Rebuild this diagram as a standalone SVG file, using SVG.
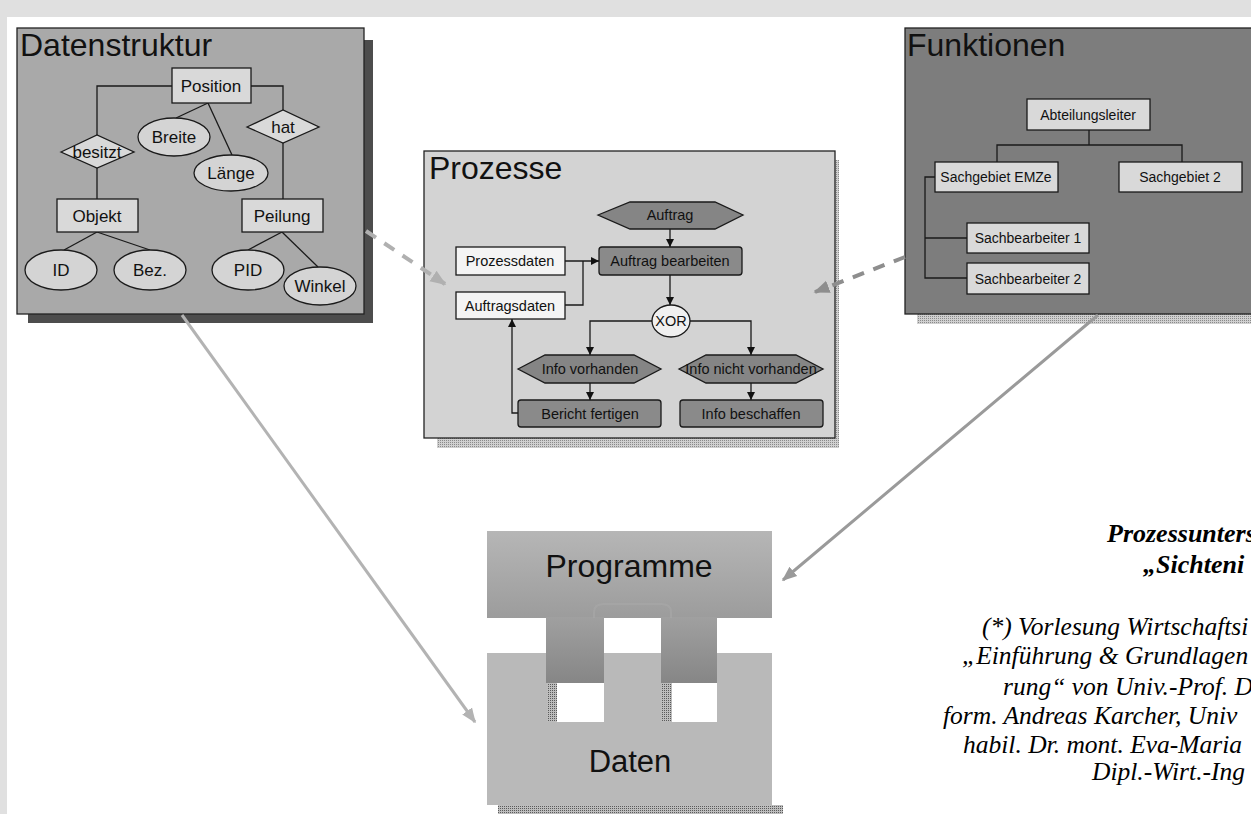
<svg xmlns="http://www.w3.org/2000/svg" width="1251" height="814" viewBox="0 0 1251 814">
  <defs>
    <style>
      .sans { font-family: "Liberation Sans", Arial, sans-serif; fill: #111; }
      .title { font-size: 32px; }
      .er { font-size: 17px; text-anchor: middle; }
      .pr { font-size: 14.5px; text-anchor: middle; }
      .fn { font-size: 14px; text-anchor: middle; }
      .edge { stroke: #1a1a1a; stroke-width: 1.3; fill: none; }
      .box { stroke: #1a1a1a; stroke-width: 1.3; }
      .serif { font-family: "Liberation Serif", "Times New Roman", serif; fill: #000; }
      .note { font-size: 25.5px; font-style: italic; }
      .head { font-size: 26px; font-style: italic; font-weight: bold; }
    </style>
    <marker id="ah" viewBox="0 0 10 10" refX="10" refY="5" markerWidth="8" markerHeight="8" markerUnits="userSpaceOnUse" orient="auto">
      <path d="M0,0 L10,5 L0,10 z" fill="#111"/>
    </marker>
    <marker id="ahLight" viewBox="0 0 10 10" refX="9" refY="5" markerWidth="4" markerHeight="4" orient="auto">
      <path d="M0,1 L10,5 L0,9 z" fill="#b0b0b0"/>
    </marker>
    <marker id="ahDark" viewBox="0 0 10 10" refX="9" refY="5" markerWidth="4" markerHeight="4" orient="auto">
      <path d="M0,1 L10,5 L0,9 z" fill="#8e8e8e"/>
    </marker>
    <marker id="ahLine1" viewBox="0 0 10 10" refX="9" refY="5" markerWidth="5" markerHeight="5" orient="auto">
      <path d="M0,1 L10,5 L0,9 z" fill="#b3b3b3"/>
    </marker>
    <marker id="ahLine2" viewBox="0 0 10 10" refX="9" refY="5" markerWidth="5" markerHeight="5" orient="auto">
      <path d="M0,1 L10,5 L0,9 z" fill="#9a9a9a"/>
    </marker>
    <linearGradient id="progGrad" x1="0" y1="0" x2="0" y2="1">
      <stop offset="0" stop-color="#b6b6b6"/>
      <stop offset="1" stop-color="#9c9c9c"/>
    </linearGradient>
    <linearGradient id="toothGrad" x1="0" y1="0" x2="0" y2="1">
      <stop offset="0" stop-color="#a0a0a0"/>
      <stop offset="1" stop-color="#868686"/>
    </linearGradient>
    <pattern id="dots" width="2" height="2" patternUnits="userSpaceOnUse">
      <rect width="2" height="2" fill="#d0d0d0"/>
      <rect width="1" height="1" fill="#8a8a8a"/>
    </pattern>
    <pattern id="dotsDark" width="2" height="2" patternUnits="userSpaceOnUse">
      <rect width="2" height="2" fill="#bdbdbd"/>
      <rect width="1" height="1" fill="#5a5a5a"/>
    </pattern>
  </defs>

  <!-- page background -->
  <rect x="0" y="0" width="1251" height="814" fill="#ffffff"/>
  <rect x="0" y="0" width="1251" height="17" fill="#e0e0e0"/>
  <rect x="0" y="0" width="7" height="814" fill="#e0e0e0"/>

  <!-- Datenstruktur panel -->
  <g id="datenstruktur">
    <rect x="28" y="40" width="345" height="283" fill="#4d4d4d"/>
    <rect x="17" y="28" width="347" height="286" fill="#a9a9a9" stroke="#222" stroke-width="1.3"/>
    <text class="sans title" x="20" y="56">Datenstruktur</text>
    <!-- relationships -->
    <path class="edge" d="M172,86 H97 V135"/>
    <path class="edge" d="M97,168 V199"/>
    <path class="edge" d="M251,86 H283 V110"/>
    <path class="edge" d="M283,143 V199"/>
    <path class="edge" d="M208,103 L176,118"/>
    <path class="edge" d="M208,103 L232,155"/>
    <path class="edge" d="M97,232 L64,250"/>
    <path class="edge" d="M97,232 L150,250"/>
    <path class="edge" d="M282,232 L248,250"/>
    <path class="edge" d="M282,232 L318,267"/>
    <!-- entities -->
    <rect class="box" x="172" y="68" width="79" height="35" fill="#d9d9d9"/>
    <text class="sans er" x="211" y="92">Position</text>
    <rect class="box" x="57" y="199" width="81" height="33" fill="#d9d9d9"/>
    <text class="sans er" x="97" y="222">Objekt</text>
    <rect class="box" x="242" y="199" width="81" height="33" fill="#d9d9d9"/>
    <text class="sans er" x="282" y="222">Peilung</text>
    <!-- relationship diamonds -->
    <polygon class="box" points="61,152 97,135 134,152 97,168" fill="#d9d9d9"/>
    <text class="sans er" x="97" y="158">besitzt</text>
    <polygon class="box" points="247,127 283,110 319,127 283,143" fill="#d9d9d9"/>
    <text class="sans er" x="283" y="133">hat</text>
    <!-- attributes -->
    <ellipse class="box" cx="174" cy="137" rx="36" ry="19" fill="#d4d4d4"/>
    <text class="sans er" x="174" y="143">Breite</text>
    <ellipse class="box" cx="231" cy="173" rx="37" ry="18" fill="#d4d4d4"/>
    <text class="sans er" x="231" y="179">Länge</text>
    <ellipse class="box" cx="61" cy="270" rx="36" ry="20" fill="#d4d4d4"/>
    <text class="sans er" x="61" y="276">ID</text>
    <ellipse class="box" cx="150" cy="270" rx="36" ry="20" fill="#d4d4d4"/>
    <text class="sans er" x="150" y="276">Bez.</text>
    <ellipse class="box" cx="248" cy="270" rx="36" ry="20" fill="#d4d4d4"/>
    <text class="sans er" x="248" y="276">PID</text>
    <ellipse class="box" cx="320" cy="286" rx="36" ry="19" fill="#d4d4d4"/>
    <text class="sans er" x="320" y="292">Winkel</text>
  </g>

  <!-- Prozesse panel -->
  <g id="prozesse">
    <rect x="437" y="438" width="401" height="10" fill="url(#dots)"/>
    <rect x="835" y="160" width="4" height="288" fill="url(#dots)"/>
    <rect x="424" y="151" width="411" height="287" fill="#d3d3d3" stroke="#222" stroke-width="1.3"/>
    <text class="sans title" x="429" y="179">Prozesse</text>
    <!-- flow -->
    <path class="edge" d="M670,229 V247" marker-end="url(#ah)"/>
    <path class="edge" d="M565,261 H599" marker-end="url(#ah)"/>
    <path class="edge" d="M565,305 H583 V261"/>
    <path class="edge" d="M670,275 V305" marker-end="url(#ah)"/>
    <path class="edge" d="M652,321 H590 V355" marker-end="url(#ah)"/>
    <path class="edge" d="M690,321 H751 V355" marker-end="url(#ah)"/>
    <path class="edge" d="M590,383 V400" marker-end="url(#ah)"/>
    <path class="edge" d="M751,383 V400" marker-end="url(#ah)"/>
    <path class="edge" d="M518,413 H512 V319" marker-end="url(#ah)"/>
    <!-- events -->
    <polygon class="box" points="598,215 630,202 715,202 743,215 715,229 630,229" fill="#858585"/>
    <text class="sans pr" x="670" y="220">Auftrag</text>
    <polygon class="box" points="518,369 545,355 634,355 661,369 634,383 545,383" fill="#858585"/>
    <text class="sans pr" x="590" y="374">Info vorhanden</text>
    <polygon class="box" points="679,369 706,355 796,355 823,369 796,383 706,383" fill="#858585"/>
    <text class="sans pr" x="751" y="374">Info nicht vorhanden</text>
    <!-- functions -->
    <rect class="box" x="599" y="247" width="143" height="28" rx="3" fill="#8a8a8a"/>
    <text class="sans pr" x="670" y="266">Auftrag bearbeiten</text>
    <rect class="box" x="518" y="400" width="143" height="27" rx="3" fill="#8a8a8a"/>
    <text class="sans pr" x="590" y="419">Bericht fertigen</text>
    <rect class="box" x="680" y="400" width="143" height="27" rx="3" fill="#8a8a8a"/>
    <text class="sans pr" x="751" y="419">Info beschaffen</text>
    <!-- data -->
    <rect class="box" x="456" y="247" width="109" height="28" fill="#f4f4f4"/>
    <text class="sans pr" x="510" y="266">Prozessdaten</text>
    <rect class="box" x="456" y="292" width="109" height="27" fill="#f4f4f4"/>
    <text class="sans pr" x="510" y="311">Auftragsdaten</text>
    <!-- connector -->
    <ellipse class="box" cx="671" cy="321" rx="19" ry="16" fill="#f0f0f0"/>
    <text class="sans pr" x="671" y="326">XOR</text>
  </g>

  <!-- Funktionen panel -->
  <g id="funktionen">
    <rect x="917" y="314" width="340" height="10" fill="url(#dots)"/>
    <rect x="905" y="28" width="360" height="286" fill="#7d7d7d" stroke="#222" stroke-width="1.3"/>
    <text class="sans title" x="907" y="56">Funktionen</text>
    <path class="edge" d="M1089,130 V145 M997,163 V145 H1182 V163"/>
    <path class="edge" d="M935,177 H925 V278 H967 M925,238 H967"/>
    <rect class="box" x="1027" y="99" width="123" height="31" fill="#d9d9d9"/>
    <text class="sans fn" x="1088" y="120">Abteilungsleiter</text>
    <rect class="box" x="935" y="162" width="123" height="30" fill="#d9d9d9"/>
    <text class="sans fn" x="996" y="182">Sachgebiet EMZe</text>
    <rect class="box" x="1119" y="162" width="123" height="30" fill="#d9d9d9"/>
    <text class="sans fn" x="1180" y="182">Sachgebiet 2</text>
    <rect class="box" x="967" y="223" width="122" height="30" fill="#d9d9d9"/>
    <text class="sans fn" x="1028" y="243">Sachbearbeiter 1</text>
    <rect class="box" x="967" y="263" width="122" height="31" fill="#d9d9d9"/>
    <text class="sans fn" x="1028" y="284">Sachbearbeiter 2</text>
  </g>

  <!-- Programme / Daten -->
  <g id="programme-daten">
    <!-- Daten block with shadow and holes -->
    <rect x="498" y="805" width="285" height="9" fill="url(#dotsDark)"/>
    <rect x="487" y="653" width="285" height="152" fill="#b9b9b9"/>
    <rect x="547" y="683" width="57" height="39" fill="#ffffff"/>
    <rect x="547" y="683" width="10" height="39" fill="url(#dotsDark)"/>
    <rect x="661" y="683" width="56" height="39" fill="#ffffff"/>
    <rect x="661" y="683" width="11" height="39" fill="url(#dotsDark)"/>
    <!-- Programme block with teeth -->
    <rect x="487" y="531" width="285" height="87" fill="url(#progGrad)"/>
    <rect x="546" y="617" width="58" height="66" fill="url(#toothGrad)"/>
    <rect x="661" y="617" width="56" height="66" fill="url(#toothGrad)"/>
    <path d="M594,618 V612 Q594,604 604,604 H661 Q671,604 671,612 V618" fill="none" stroke="#a8a8a8" stroke-width="2" opacity="0.6"/>
    <text class="sans" x="629" y="577" font-size="32" text-anchor="middle">Programme</text>
    <text class="sans" x="630" y="772" font-size="31" text-anchor="middle">Daten</text>
  </g>

  <!-- connectors between the views -->
  <g id="connectors">
    <line x1="366" y1="231" x2="445" y2="284" stroke="#b0b0b0" stroke-width="4" stroke-dasharray="12 10" marker-end="url(#ahLight)"/>
    <line x1="905" y1="257" x2="815" y2="292" stroke="#8e8e8e" stroke-width="4" stroke-dasharray="12 10" marker-end="url(#ahDark)"/>
    <line x1="182" y1="315" x2="475" y2="722" stroke="#b3b3b3" stroke-width="3" marker-end="url(#ahLine1)"/>
    <line x1="1098" y1="315" x2="783" y2="580" stroke="#9a9a9a" stroke-width="3" marker-end="url(#ahLine2)"/>
  </g>

  <!-- caption and source note, running off the right edge -->
  <g id="caption">
    <text class="serif head" x="1107" y="542">Prozessunters</text>
    <text class="serif head" x="1143" y="573">„Sichteni</text>
    <text class="serif note" x="982" y="635">(*) Vorlesung Wirtschaftsi</text>
    <text class="serif note" x="962" y="664">„Einführung &amp; Grundlagen</text>
    <text class="serif note" x="1003" y="695">rung“ von Univ.-Prof. Dr</text>
    <text class="serif note" x="943" y="724">form. Andreas Karcher, Univ</text>
    <text class="serif note" x="963" y="753">habil. Dr. mont. Eva-Maria</text>
    <text class="serif note" x="1092" y="780">Dipl.-Wirt.-Ing</text>
  </g>
</svg>
